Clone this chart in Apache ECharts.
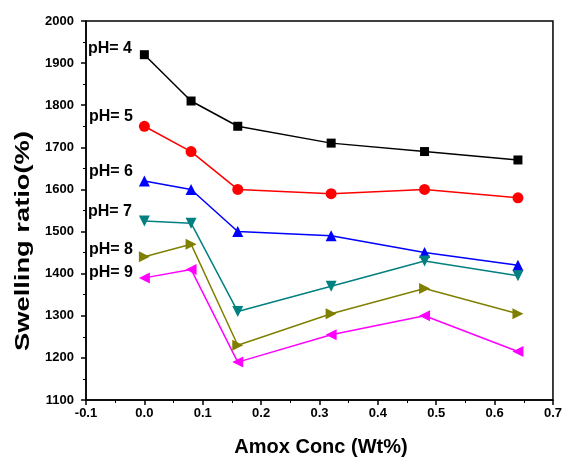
<!DOCTYPE html>
<html>
<head>
<meta charset="utf-8">
<script src="https://cdn.jsdelivr.net/npm/echarts@6/dist/echarts.min.js"></script>
<style>
  html, body { margin: 0; padding: 0; background: #fff; }
  #chart { width: 565px; height: 458px; }
</style>
</head>
<body>
<div id="chart"></div>
<script>
const conc = [0, 0.08, 0.16, 0.32, 0.48, 0.64]
const ph4 = [1920, 1810, 1750, 1710, 1690, 1670]
const ph5 = [1750, 1690, 1600, 1590, 1600, 1580]
const ph6 = [1620, 1600, 1500, 1490, 1450, 1420]
const ph7 = [1525, 1520, 1310, 1370, 1430, 1395]
const ph8 = [1440, 1470, 1230, 1305, 1365, 1305]
const ph9 = [1390, 1410, 1190, 1255, 1300, 1215]
const phNames = ['pH= 4', 'pH= 5', 'pH= 6', 'pH= 7', 'pH= 8', 'pH= 9']

const font = 'Liberation Sans, Arial, sans-serif'
let chart = echarts.init(document.getElementById('chart'))

function mk(name, vals, color, symbol, rot) {
  return {
    name: name,
    type: 'line',
    data: conc.map((x, i) => [x, vals[i]]),
    symbol: symbol,
    symbolSize: symbol === 'rect' ? 9 : 11,
    symbolRotate: rot,
    lineStyle: { color: color, width: 1.5 },
    itemStyle: { color: color },
    animation: false
  }
}

// label anchors (left, middle) next to each curve's first point
const labelPos = [[88, 49], [89, 117], [89, 172], [88, 212], [89, 250], [89, 273]]

let texts = phNames.map((t, i) => ({
  type: 'text', x: labelPos[i][0], y: labelPos[i][1],
  style: { text: t, fontFamily: font, fontWeight: 'bold', fontSize: 16, fill: '#000',
    verticalAlign: 'middle', align: 'left' }
}))
// axis titles
texts.push({
  type: 'text', x: 321, y: 447,
  style: { text: 'Amox Conc (Wt%)', fontFamily: font, fontWeight: 'bold', fontSize: 20, fill: '#000',
    align: 'center', verticalAlign: 'middle' }
})
texts.push({
  type: 'text', x: 23, y: 241, rotation: Math.PI / 2, scaleX: 1.3,
  style: { text: 'Swelling ratio(%)', fontFamily: font, fontWeight: 'bold', fontSize: 21, fill: '#000',
    align: 'center', verticalAlign: 'middle' }
})

chart.setOption({
  grid: { left: 86, right: 9, top: 21, bottom: 58, show: true, borderColor: '#000', borderWidth: 1.5 },
  xAxis: {
    type: 'value', min: -0.1, max: 0.7, interval: 0.1,
    axisLine: { onZero: false, lineStyle: { color: '#000', width: 1.5 } },
    axisTick: { length: 5, lineStyle: { color: '#000', width: 1.5 } },
    minorTick: { show: true, splitNumber: 2, length: 3, lineStyle: { color: '#000' } },
    axisLabel: { fontFamily: font, fontWeight: 'bold', fontSize: 13, color: '#000', margin: 7,
      formatter: v => v.toFixed(1) },
    splitLine: { show: false }
  },
  yAxis: {
    type: 'value', min: 1100, max: 2000, interval: 100,
    axisLine: { show: true, onZero: false, lineStyle: { color: '#000', width: 1.5 } },
    axisTick: { show: true, length: 5, lineStyle: { color: '#000', width: 1.5 } },
    minorTick: { show: true, splitNumber: 2, length: 3, lineStyle: { color: '#000' } },
    axisLabel: { fontFamily: font, fontWeight: 'bold', fontSize: 13, color: '#000', margin: 12,
      formatter: v => String(v) },
    splitLine: { show: false }
  },
  graphic: texts,
  series: [
    mk(phNames[0], ph4, '#000000', 'rect', 0),
    mk(phNames[1], ph5, '#ff0000', 'circle', 0),
    mk(phNames[2], ph6, '#0000ff', 'triangle', 0),
    mk(phNames[3], ph7, '#008080', 'triangle', 180),
    mk(phNames[4], ph8, '#808000', 'triangle', -90),
    mk(phNames[5], ph9, '#ff00ff', 'triangle', 90)
  ]
})
</script>
</body>
</html>
